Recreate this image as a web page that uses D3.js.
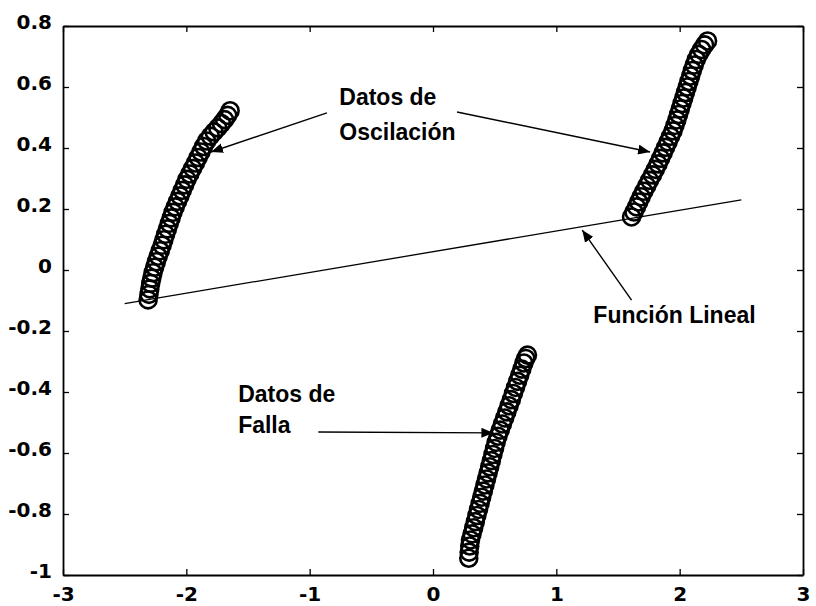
<!DOCTYPE html>
<html>
<head>
<meta charset="utf-8">
<script src="https://cdn.jsdelivr.net/npm/d3@7"></script>
<style>
  body { margin: 0; background: #fff; }
  .tick text { font-family: "DejaVu Sans", sans-serif; font-weight: bold; font-size: 20px; fill: #000; }
  .note { font-family: "Liberation Sans", Arial, sans-serif; font-weight: bold; font-size: 23px; fill: #000; }
</style>
</head>
<body>
<svg id="graph" width="816" height="606"></svg>
<script>
// tick values and labels
var xTicks = [-3, -2, -1, 0, 1, 2, 3];
var xTickLabels = ["-3", "-2", "-1", "0", "1", "2", "3"];
var yTicks = [-1, -0.8, -0.6, -0.4, -0.2, 0, 0.2, 0.4, 0.6, 0.8];
var yTickLabels = ["-1", "-0.8", "-0.6", "-0.4", "-0.2", "0", "0.2", "0.4", "0.6", "0.8"];

// oscillation data, left branch [x, y]
var oscLeft = [[-2.310,-0.098],[-2.303,-0.080],[-2.296,-0.062],[-2.289,-0.044],[-2.280,-0.027],[-2.270,-0.009],
  [-2.257,0.009],[-2.243,0.027],[-2.228,0.045],[-2.212,0.063],[-2.196,0.081],[-2.182,0.099],[-2.168,0.117],
  [-2.153,0.135],[-2.138,0.153],[-2.123,0.171],[-2.108,0.189],[-2.090,0.207],[-2.071,0.225],[-2.052,0.243],
  [-2.033,0.261],[-2.014,0.279],[-1.995,0.297],[-1.972,0.315],[-1.949,0.333],[-1.926,0.351],[-1.904,0.369],
  [-1.882,0.387],[-1.860,0.405],[-1.835,0.423],[-1.805,0.439],[-1.775,0.453],[-1.745,0.466],[-1.715,0.480],
  [-1.690,0.493],[-1.665,0.507],[-1.645,0.522]];

// oscillation data, right branch [x, y]
var oscRight = [[1.610,0.174],[1.630,0.190],[1.650,0.207],[1.668,0.223],[1.688,0.240],[1.710,0.258],[1.733,0.276],
  [1.756,0.294],[1.780,0.312],[1.803,0.330],[1.825,0.348],[1.846,0.366],[1.866,0.384],[1.886,0.402],[1.906,0.420],
  [1.926,0.438],[1.946,0.456],[1.962,0.474],[1.977,0.492],[1.991,0.510],[2.005,0.528],[2.019,0.546],[2.033,0.564],
  [2.047,0.582],[2.061,0.600],[2.075,0.618],[2.089,0.636],[2.103,0.654],[2.118,0.672],[2.135,0.690],[2.155,0.707],
  [2.178,0.723],[2.202,0.738],[2.226,0.751]];

// fault data [x, y]
var fault = [[0.290,-0.945],[0.293,-0.925],[0.298,-0.905],[0.304,-0.885],[0.317,-0.865],[0.330,-0.845],[0.343,-0.825],
  [0.356,-0.805],[0.369,-0.785],[0.382,-0.765],[0.395,-0.745],[0.408,-0.725],[0.421,-0.705],[0.434,-0.685],
  [0.447,-0.665],[0.460,-0.645],[0.473,-0.625],[0.486,-0.605],[0.499,-0.585],[0.512,-0.565],[0.527,-0.545],
  [0.545,-0.525],[0.563,-0.505],[0.581,-0.485],[0.599,-0.465],[0.617,-0.445],[0.635,-0.425],[0.652,-0.405],
  [0.669,-0.385],[0.686,-0.365],[0.703,-0.345],[0.720,-0.325],[0.737,-0.305],[0.752,-0.290],[0.766,-0.279]];

// linear function, end points [x, y]
var linear = [[-2.5, -0.11], [2.5, 0.23]];

// plot box in pixels
var width = 816, height = 606;
const box = { left: 63, right: 803, top: 26, bottom: 575 };

const svg = d3.select('#graph');

const x = d3.scaleLinear().domain([-3, 3]).range([box.left, box.right]);
const y = d3.scaleLinear().domain([-1, 0.8]).range([box.bottom, box.top]);

// arrow head marker
svg.append("defs").append("marker")
  .attr("id", "head")
  .attr("viewBox", "0 0 12 10")
  .attr("refX", 12).attr("refY", 5)
  .attr("markerWidth", 12).attr("markerHeight", 10)
  .attr("markerUnits", "userSpaceOnUse")
  .attr("orient", "auto")
  .append("path").attr("d", "M0,0 L12,5 L0,10 Z").attr("fill", "#000");

// axes, ticks pointing inward like matlab
function styleAxis(g) {
  g.select(".domain").attr("stroke", "#000").attr("stroke-width", 1.8);
  g.selectAll(".tick line").attr("stroke", "#000").attr("stroke-width", 1.3);
}
svg.append("g").attr("transform", `translate(0,${box.bottom})`)
  .call(d3.axisBottom(x).tickValues(xTicks).tickSize(-6).tickSizeOuter(0).tickPadding(12)
    .tickFormat((d, i) => xTickLabels[i]))
  .call(styleAxis);
svg.append("g").attr("transform", `translate(0,${box.top})`)
  .call(d3.axisTop(x).tickValues(xTicks).tickSize(-6).tickSizeOuter(0).tickFormat(""))
  .call(styleAxis);
const yAxis = svg.append("g").attr("transform", `translate(${box.left},0)`)
  .call(d3.axisLeft(y).tickValues(yTicks).tickSize(-6).tickSizeOuter(0).tickPadding(11)
    .tickFormat((d, i) => yTickLabels[i]))
  .call(styleAxis);
yAxis.selectAll(".tick text").attr("dy", "0.12em");
svg.append("g").attr("transform", `translate(${box.right},0)`)
  .call(d3.axisRight(y).tickValues(yTicks).tickSize(-6).tickSizeOuter(0).tickFormat(""))
  .call(styleAxis);

// linear function
svg.append("path")
  .datum(linear)
  .attr("d", d3.line().x(d => x(d[0])).y(d => y(d[1])))
  .attr("fill", "none")
  .attr("stroke", "#000")
  .attr("stroke-width", 1.3);

// open circle markers
[oscLeft, oscRight, fault].forEach(function(series) {
  svg.append("g").selectAll("circle")
    .data(series)
    .join("circle")
    .attr("cx", d => x(d[0]))
    .attr("cy", d => y(d[1]))
    .attr("r", 8.5)
    .attr("fill", "none")
    .attr("stroke", "#000")
    .attr("stroke-width", 2.6);
});

// annotations (data coordinates)
const notes = [
  { lines: ["Datos de", "Oscilación"], x: -0.76, y: 0.541, dy: 35 },
  { lines: ["Datos de", "Falla"], x: -1.58, y: -0.433, dy: 31 },
  { lines: ["Función Lineal"], x: 1.30, y: -0.174, dy: 0 }
];
notes.forEach(function(n) {
  n.lines.forEach(function(t, i) {
    svg.append("text").attr("class", "note")
      .attr("x", x(n.x)).attr("y", y(n.y) + i * n.dy)
      .text(t);
  });
});

const arrows = [
  [[-0.86, 0.515], [-1.80, 0.387]],
  [[0.195, 0.518], [1.76, 0.387]],
  [[1.61, -0.099], [1.21, 0.131]],
  [[-0.93, -0.531], [0.49, -0.534]]
];
svg.append("g").selectAll("line")
  .data(arrows)
  .join("line")
  .attr("x1", d => x(d[0][0])).attr("y1", d => y(d[0][1]))
  .attr("x2", d => x(d[1][0])).attr("y2", d => y(d[1][1]))
  .attr("stroke", "#000")
  .attr("stroke-width", 1.4)
  .attr("marker-end", "url(#head)");
</script>
</body>
</html>
